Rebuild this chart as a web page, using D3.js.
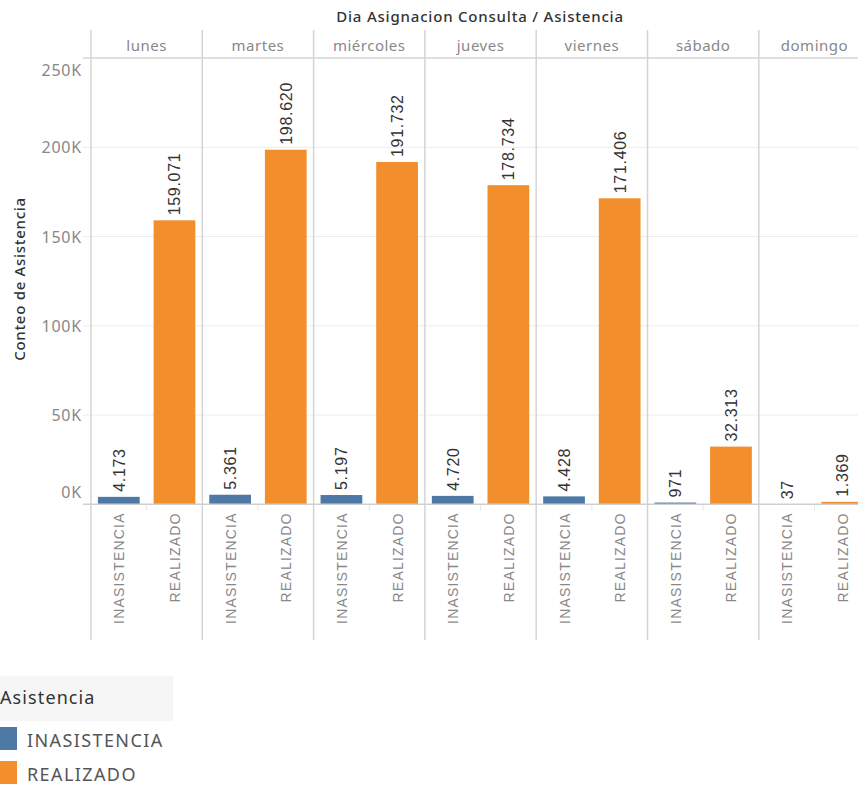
<!DOCTYPE html>
<html>
<head>
<meta charset="utf-8">
<script src="https://cdn.jsdelivr.net/npm/d3@7"></script>
<style>
  body { margin: 0; background: #fff; overflow: hidden; }
  svg { display: block; }
</style>
</head>
<body>
<script>
// Days (panel columns) and the two attendance categories inside each one
const dias = ['lunes', 'martes', 'miércoles', 'jueves', 'viernes', 'sábado', 'domingo'];
const asistencias = ['INASISTENCIA', 'REALIZADO'];

// Counts per day
const inasistencia = [4173, 5361, 5197, 4720, 4428, 971, 37];
const realizado = [159071, 198620, 191732, 178734, 171406, 32313, 1369];

const yTicks = [0, 50000, 100000, 150000, 200000, 250000];
const colores = ['#4e79a7', '#f28e2b'];

const width = 858, height = 791;
const panelLeft = 91, panelWidth = 111.3;
const headerTop = 30, plotTop = 58, zeroY = 504.3, panelBottom = 640;

const svg = d3.select('body').append('svg')
    .attr('width', width)
    .attr('height', height);

const x = d3.scaleBand()
    .domain(dias)
    .range([panelLeft, panelLeft + panelWidth * dias.length]);

const xInner = d3.scaleBand()
    .domain(asistencias)
    .range([0, panelWidth])
    .paddingInner(0.25)
    .paddingOuter(0.125);

const y = d3.scaleLinear()
    .domain([0, 250000])
    .range([zeroY, plotTop]);

const color = d3.scaleOrdinal().domain(asistencias).range(colores);

const fmt = d3.formatLocale({ decimal: ',', thousands: '.', grouping: [3], currency: ['', ''] }).format(',d');

// Title on top of the day headers
svg.append('text')
    .attr('x', 480)
    .attr('y', 22)
    .attr('text-anchor', 'middle')
    .style('font', '500 15px "Noto Sans", sans-serif')
    .style('letter-spacing', '0.8px')
    .style('fill', '#333')
    .text('Dia Asignacion Consulta / Asistencia');

// Horizontal gridlines
svg.append('g')
    .selectAll('line')
    .data(yTicks.filter(d => d > 0 && d < 250000))
    .enter().append('line')
    .attr('x1', panelLeft - 8)
    .attr('x2', width)
    .attr('y1', d => y(d))
    .attr('y2', d => y(d))
    .style('stroke', '#ececec')
    .style('stroke-width', 1);

// Header bottom / top of plot
svg.append('line')
    .attr('x1', panelLeft - 8).attr('x2', width)
    .attr('y1', plotTop).attr('y2', plotTop)
    .style('stroke', '#d4d4d4').style('stroke-width', 1.5);

// Panel separators
svg.append('g')
    .selectAll('line')
    .data(dias)
    .enter().append('line')
    .attr('x1', d => x(d))
    .attr('x2', d => x(d))
    .attr('y1', headerTop)
    .attr('y2', panelBottom)
    .style('stroke', '#d4d4d4')
    .style('stroke-width', 1.5);

// Day headers
svg.append('g')
    .selectAll('text')
    .data(dias)
    .enter().append('text')
    .attr('x', d => x(d) + panelWidth / 2)
    .attr('y', 50.5)
    .attr('text-anchor', 'middle')
    .style('font', '15px "Noto Sans", sans-serif')
    .style('letter-spacing', '0.5px')
    .style('fill', '#888')
    .text(d => d);

// Y axis labels (outer ones nudged inward)
svg.append('g')
    .selectAll('text')
    .data(yTicks)
    .enter().append('text')
    .attr('x', 82)
    .attr('y', d => d === 0 ? y(d) - 6 : d === 250000 ? y(d) + 18 : y(d) + 6)
    .attr('text-anchor', 'end')
    .style('font', '16px "Noto Sans", sans-serif')
    .style('letter-spacing', '0.8px')
    .style('fill', '#888')
    .text(d => (d / 1000) + 'K');

svg.append('text')
    .attr('transform', 'translate(25,279) rotate(-90)')
    .attr('text-anchor', 'middle')
    .style('font', '500 15px "Noto Sans", sans-serif')
    .style('letter-spacing', '0.7px')
    .style('fill', '#333')
    .text('Conteo de Asistencia');

// Bars, one group per day
const rows = dias.map((d, i) => ({ dia: d, valores: [
    { key: 'INASISTENCIA', value: inasistencia[i] },
    { key: 'REALIZADO', value: realizado[i] }
] }));

const panel = svg.append('g')
    .selectAll('g')
    .data(rows)
    .enter().append('g')
    .attr('transform', d => `translate(${x(d.dia)},0)`);

panel.selectAll('rect')
    .data(d => d.valores)
    .enter().append('rect')
    .attr('x', d => xInner(d.key))
    .attr('y', d => y(d.value))
    .attr('width', xInner.bandwidth())
    .attr('height', d => zeroY - y(d.value))
    .style('fill', d => color(d.key));

// Value labels above each bar
panel.selectAll('.valor')
    .data(d => d.valores)
    .enter().append('text')
    .attr('class', 'valor')
    .attr('transform', d => `translate(${xInner(d.key) + xInner.bandwidth() / 2 + 6},${y(d.value) - 5}) rotate(-90)`)
    .attr('text-anchor', 'start')
    .style('font', '16px "Liberation Sans", Arial, sans-serif')
    .style('letter-spacing', '0.7px')
    .style('fill', '#333')
    .text(d => fmt(d.value));

// Small separators between categories below the zero line
panel.append('line')
    .attr('x1', panelWidth / 2).attr('x2', panelWidth / 2)
    .attr('y1', zeroY).attr('y2', zeroY + 6)
    .style('stroke', '#e6e6e6');

// Category labels below each bar
panel.selectAll('.cat')
    .data(d => d.valores)
    .enter().append('text')
    .attr('class', 'cat')
    .attr('transform', d => `translate(${xInner(d.key) + xInner.bandwidth() / 2 + 5.5},${zeroY + 8}) rotate(-90)`)
    .attr('text-anchor', 'end')
    .style('font', '14px "Liberation Sans", Arial, sans-serif')
    .style('letter-spacing', '1.2px')
    .style('fill', '#888')
    .text(d => d.key);

// Zero line
svg.append('line')
    .attr('x1', panelLeft - 8).attr('x2', width)
    .attr('y1', zeroY).attr('y2', zeroY)
    .style('stroke', '#cfcfcf').style('stroke-width', 1.5);

// Legend
const legend = svg.append('g');
legend.append('rect')
    .attr('x', 0).attr('y', 676)
    .attr('width', 173).attr('height', 45)
    .style('fill', '#f6f6f6');
legend.append('text')
    .attr('x', 0).attr('y', 704)
    .style('font', '18px "Noto Sans", sans-serif')
    .style('letter-spacing', '1.1px')
    .style('fill', '#333')
    .text('Asistencia');

const item = legend.selectAll('.item')
    .data(asistencias)
    .enter().append('g')
    .attr('class', 'item')
    .attr('transform', (d, i) => `translate(0,${727 + i * 34})`);

item.append('rect')
    .attr('width', 17).attr('height', 23)
    .style('fill', d => color(d));

item.append('text')
    .attr('x', 27).attr('y', 20)
    .style('font', '18px "Noto Sans", sans-serif')
    .style('letter-spacing', '1.4px')
    .style('fill', '#555')
    .text(d => d);
</script>
</body>
</html>
